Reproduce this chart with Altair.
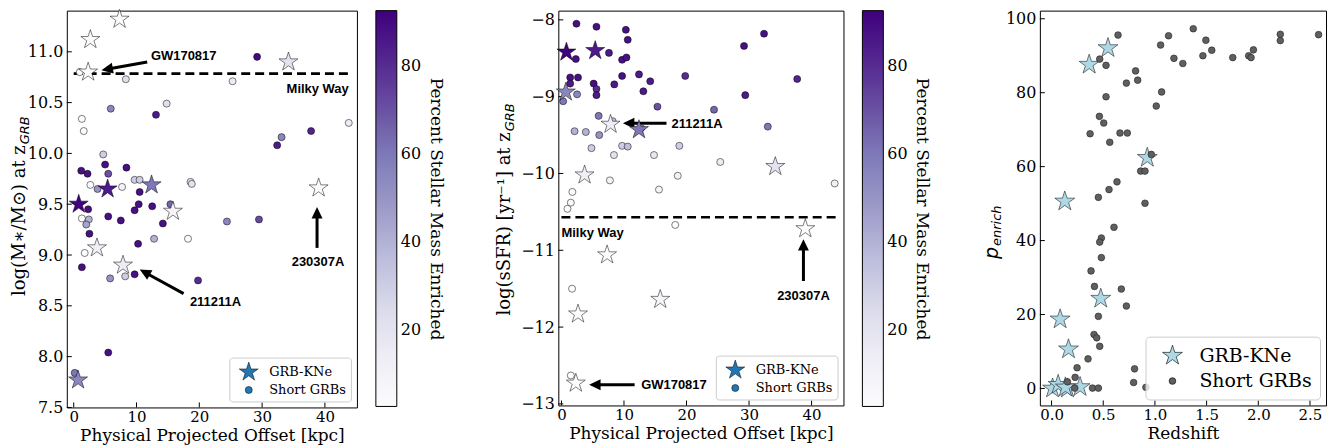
import altair as alt
import pandas as pd

# ---------------- data ----------------
KINDS = ["GRB-KNe", "Short GRBs"]

# GRB-KNe (stars) shared by panels 1 and 2
kn_offset = [7.3, 2.65, 2.3, 34.2, 0.8, 5.4, 12.4, 15.8, 39.0, 3.7, 7.85, 0.7]
kn_logm = [11.32, 11.12, 10.80, 10.90, 9.50, 9.65, 9.69, 9.43, 9.66, 9.07, 8.90, 7.77]
kn_lssfr = [-11.06, -11.83, -12.73, -9.91, -8.42, -8.40, -9.43, -11.64, -10.72, -10.02, -9.36, -8.94]
kn_pct = [3, 3, 3, 20, 92, 85, 60, 8, 3, 12, 15, 55]

# Short GRBs, panel 1 (stellar mass)
m_offset = [0.96, 29.2, 8.3, 25.3, 5.9, 14.8, 13.1, 1.3, 1.6, 43.8, 37.8, 33.1, 32.4, 4.7, 5.0, 1.2, 2.2,
            8.4, 5.5, 2.65, 7.7, 3.8, 9.7, 10.5, 10.5, 18.6, 18.8, 10.35, 9.7, 12.5, 15.4, 2.3, 1.3, 2.4,
            2.0, 5.5, 7.5, 14.2, 24.4, 29.5, 2.5, 1.75, 12.8, 18.2, 10.25, 1.3, 5.8, 8.2, 9.7, 19.8, 5.5, 0.16]
m_logm = [10.80, 10.95, 10.73, 10.71, 10.44, 10.49, 10.38, 10.34, 10.22, 10.30, 10.22, 10.16, 10.08, 9.99,
          9.89, 9.83, 9.80, 9.86, 9.80, 9.69, 9.67, 9.65, 9.74, 9.74, 9.62, 9.72, 9.70, 9.50, 9.44, 9.48,
          9.50, 9.45, 9.36, 9.35, 9.30, 9.38, 9.34, 9.31, 9.33, 9.35, 9.21, 9.02, 9.16, 9.16, 9.11, 8.88,
          8.77, 8.79, 8.81, 8.75, 8.04, 7.84]
m_pct = [3, 90, 22, 15, 55, 22, 85, 3, 3, 15, 82, 55, 85, 30, 88, 88, 88, 88, 70, 3, 10, 50, 30, 30, 88,
         20, 20, 88, 88, 88, 65, 88, 3, 40, 45, 88, 88, 88, 55, 72, 88, 3, 40, 3, 88, 88, 50, 30, 88, 80, 88, 60]

# Short GRBs, panel 2 (sSFR)
s_offset = [2.4, 5.6, 10.3, 10.6, 32.4, 29.2, 2.3, 7.6, 9.7, 10.4, 1.4, 2.65, 1.4, 5.15, 5.6, 5.6, 8.45,
            9.7, 12.4, 14.2, 13.1, 19.8, 29.4, 37.7, 2.5, 0.27, 15.35, 24.4, 5.95, 8.2, 12.75, 33.0, 2.1,
            3.9, 6.05, 4.8, 9.7, 10.6, 18.85, 8.4, 14.8, 25.4, 18.6, 7.75, 15.6, 43.7, 1.75, 1.5, 0.96,
            18.2, 1.7, 1.5]
s_lssfr = [-8.05, -8.09, -8.13, -8.26, -8.18, -8.34, -8.51, -8.43, -8.52, -8.49, -8.75, -8.75, -8.83,
           -8.83, -8.90, -8.98, -8.84, -8.73, -8.71, -8.80, -8.93, -8.73, -8.98, -8.77, -8.97, -9.06,
           -9.13, -9.17, -9.25, -9.32, -9.41, -9.39, -9.45, -9.46, -9.50, -9.67, -9.64, -9.65, -9.64,
           -9.76, -9.76, -9.85, -10.03, -10.09, -10.21, -10.13, -10.24, -10.38, -10.46, -10.67, -11.50, -12.63]
s_pct = [88, 88, 88, 88, 88, 88, 88, 85, 88, 88, 88, 88, 85, 88, 80, 85, 85, 88, 85, 85, 85, 80, 85, 82,
         55, 60, 70, 65, 60, 35, 45, 60, 40, 40, 50, 30, 30, 35, 30, 20, 18, 15, 10, 10, 8, 12, 3, 5, 3,
         3, 3, 3]

# Panel 3 (p_enrich vs redshift)
kn_z = [0.364, 0.546, 0.926, 0.128, 0.476, 0.083, 0.164, 0.0098, 0.064, 0.154, 0.276, 0.134]
kn_p = [87.6, 92.1, 62.4, 50.6, 24.3, 18.7, 10.6, 0.0, 1.0, 0.0, 0.4, 0.3]
sg_z = [0.643, 0.466, 0.527, 0.813, 0.833, 0.724, 0.527, 0.463, 0.505, 0.373, 0.662, 0.733, 0.563, 1.371,
        1.132, 1.055, 1.493, 1.550, 1.464, 1.184, 1.27, 1.753, 1.907, 1.93, 1.953, 2.213, 2.213, 2.583,
        1.065, 1.013, 0.965, 0.862, 0.904, 0.633, 0.556, 0.453, 0.904, 0.604, 0.482, 0.466, 0.482, 0.382,
        0.415, 0.675, 0.724, 0.453, 0.411, 0.437, 0.466, 0.353, 0.247, 0.803, 0.794, 0.228, 0.154, 0.396,
        0.453, 0.225, 0.913]
sg_p = [95.6, 89.1, 87.4, 85.9, 83.4, 82.6, 78.9, 73.6, 71.8, 68.9, 69.1, 69.1, 66.6, 97.3, 95.4, 92.9,
        94.2, 91.5, 90.0, 89.3, 87.9, 89.5, 90.0, 89.5, 91.6, 95.8, 94.1, 95.7, 80.2, 76.4, 63.3, 58.8,
        58.8, 55.9, 53.8, 51.7, 50.1, 43.6, 40.7, 39.6, 35.4, 31.8, 27.6, 26.9, 22.3, 19.5, 14.6, 13.7,
        11.4, 8.0, 5.6, 5.3, 1.6, 3.0, 1.8, 0.1, 0.1, 0.1, 0.3]

# tick values
XT_OFF = [0, 10, 20, 30, 40]
YT_M = [7.5, 8.0, 8.5, 9.0, 9.5, 10.0, 10.5, 11.0]
YT_S = [-13, -12, -11, -10, -9, -8]
XT_Z = [0.0, 0.5, 1.0, 1.5, 2.0, 2.5]
YT_P = [0, 20, 40, 60, 80, 100]
CB_T = [20, 40, 60, 80]

# colour bar (Purples) range and limits
CB_MIN, CB_MAX = 2.6, 92.5
PURPLES = ["#fcfbfd", "#efedf5", "#dadaeb", "#bcbddc", "#9e9ac8", "#807dba", "#6a51a3", "#54278f", "#3f007d"]
CB_DOM = [CB_MIN + (CB_MAX - CB_MIN) * i / (len(PURPLES) - 1) for i in range(len(PURPLES))]

# annotations (text, x, y, align)
p1_text = [("GW170817", 12.3, 10.96, "left"), ("Milky Way", 43.8, 10.63, "right"),
           ("211211A", 18.5, 8.54, "left"), ("230307A", 38.9, 8.93, "center")]
p1_arrows = {"x": [11.7, 17.5, 38.75], "y": [10.90, 8.62, 9.07],
             "x2": [5.45, 11.43, 38.75], "y2": [10.83, 8.826, 9.408], "a": [260, 298.6, 0]}
p2_text = [("211211A", 17.6, -9.35, "left"), ("Milky Way", 0.0, -10.77, "left"),
           ("230307A", 38.7, -11.60, "center"), ("GW170817", 12.75, -12.75, "left")]
p2_arrows = {"x": [16.8, 38.7, 11.7], "y": [-9.345, -11.40, -12.75],
             "x2": [10.88, 38.7, 5.47], "y2": [-9.345, -10.94, -12.75], "a": [270, 0, 270]}
MW_M = 10.785
MW_S = -10.57

# ---------------- style ----------------
STAR = ("M0,-1L0.2245,-0.309L0.951,-0.309L0.363,0.118L0.588,0.809L0,0.382L-0.588,0.809"
        "L-0.363,0.118L-0.951,-0.309L-0.2245,-0.309Z")
HEAD = "M0,-0.6L0.5,0.45L-0.5,0.45Z"
SERIF = "DejaVu Serif"
BOLD = "Liberation Sans"


def mk_x(field, dom, ticks, fmt, title):
    return alt.X(field, type="quantitative", scale=alt.Scale(domain=dom, nice=False, zero=False),
                 axis=alt.Axis(values=ticks, format=fmt, ticks=False, domain=False, grid=False,
                               labelPadding=2, labelFont=SERIF, labelFontSize=15, labelColor="black",
                               labelFlush=False, labelOverlap=False,
                               title=title, titleFont=SERIF, titleFontSize=17,
                               titleFontWeight="normal", titleColor="black", titlePadding=3))


def mk_y(field, dom, ticks, fmt):
    return alt.Y(field, type="quantitative", scale=alt.Scale(domain=dom, nice=False, zero=False),
                 axis=alt.Axis(values=ticks, format=fmt, ticks=False, domain=False, grid=False,
                               labelPadding=4, labelFont=SERIF, labelFontSize=16, labelColor="black",
                               labelFlush=False, labelOverlap=False, title=""))


def tick_layers(X, Y, xticks, yticks, H):
    yt = alt.Chart(pd.DataFrame({"y": yticks})).mark_rule(color="black", strokeWidth=1).encode(
        y=Y("y"), x=alt.value(0), x2=alt.value(5))
    xt = alt.Chart(pd.DataFrame({"x": xticks})).mark_rule(color="black", strokeWidth=1).encode(
        x=X("x"), y=alt.value(H), y2=alt.value(H - 5))
    return [yt, xt]


def title_layers(main, sub, xm, xs, yanchor, font_main, style_main, size_main, font_sub, size_sub):
    t1 = alt.Chart(pd.DataFrame({"t": [main]})).mark_text(
        angle=270, align="right", baseline="alphabetic", font=font_main, fontStyle=style_main,
        fontSize=size_main, color="black").encode(text="t:N", x=alt.value(xm), y=alt.value(yanchor))
    t2 = alt.Chart(pd.DataFrame({"t": [sub]})).mark_text(
        angle=270, align="left", baseline="alphabetic", font=font_sub, fontStyle="italic",
        fontSize=size_sub, color="black").encode(text="t:N", x=alt.value(xs), y=alt.value(yanchor - 1))
    return [t1, t2]


def purple_panel(W, H, xdom, ydom, yticks, yfmt, cx, cy, cpct, ky, mw_y, texts, arrows,
                 ytitle, ty_x, ty_sub_x, ty_y):
    X = lambda f: mk_x(f, xdom, XT_OFF, "d", "Physical Projected Offset [kpc]")
    Y = lambda f: mk_y(f, ydom, yticks, yfmt)
    n = len(cx)
    df = pd.DataFrame({"x": cx + kn_offset, "y": cy + ky, "pct": cpct + kn_pct,
                       "kind": ["Short GRBs"] * n + ["GRB-KNe"] * len(kn_offset)})
    cleg = alt.Legend(title="Percent Stellar Mass Enriched", orient="right", direction="vertical",
                      titleOrient="right", titleAnchor="middle", titleFont=SERIF, titleFontSize=17,
                      titleFontWeight="normal", titleColor="black", titlePadding=6, titleLimit=600,
                      gradientLength=397, gradientThickness=21, gradientStrokeColor="black",
                      gradientStrokeWidth=1, values=CB_T, labelFont=SERIF, labelFontSize=16,
                      labelColor="black", labelOffset=4, offset=19, padding=0)
    sleg = alt.Legend(title="", orient="bottom-right", offset=6, padding=4, fillColor="white",
                      strokeColor="#cccccc", cornerRadius=3, labelFont=SERIF, labelFontSize=13,
                      labelColor="black", labelOffset=10, symbolOffset=5, symbolFillColor="#1f77b4",
                      symbolStrokeColor="black", symbolStrokeWidth=0.5, rowPadding=2)
    pts = alt.Chart(df).mark_point(filled=True, opacity=1, stroke="black", strokeWidth=0.5,
                                   color="#1f77b4").encode(
        x=X("x"), y=Y("y"),
        color=alt.Color("pct:Q", scale=alt.Scale(domain=CB_DOM, range=PURPLES, interpolate="rgb"),
                        legend=cleg),
        shape=alt.Shape("kind:N", scale=alt.Scale(domain=KINDS, range=[STAR, "circle"]), legend=sleg),
        size=alt.Size("kind:N", scale=alt.Scale(domain=KINDS, range=[400, 50]), legend=sleg),
    )
    mw = alt.Chart(pd.DataFrame({"x": [0.0], "x2": [43.9], "y": [mw_y]})).mark_rule(
        color="black", strokeWidth=2.6, strokeDash=[9, 5]).encode(x=X("x"), x2=alt.X2("x2"), y=Y("y"))
    adf = pd.DataFrame(arrows)
    shaft = alt.Chart(adf).mark_rule(color="black", strokeWidth=3).encode(
        x=X("x"), y=Y("y"), x2=alt.X2("x2"), y2=alt.Y2("y2"))
    head = alt.Chart(adf).mark_point(shape=HEAD, filled=True, color="black", size=480, opacity=1,
                                     strokeWidth=0).encode(
        x=X("x2"), y=Y("y2"),
        angle=alt.Angle("a:Q", scale=alt.Scale(domain=[0, 360], range=[0, 360])))
    layers = tick_layers(X, Y, XT_OFF, yticks, H) + [mw, shaft, head, pts]
    for (t, tx, ty, al) in texts:
        layers.append(alt.Chart(pd.DataFrame({"t": [t], "x": [tx], "y": [ty]})).mark_text(
            font=BOLD, fontWeight="bold", fontSize=13, color="black", align=al, baseline="middle"
        ).encode(text="t:N", x=X("x"), y=Y("y")))
    layers += title_layers(ytitle, "GRB", ty_x, ty_sub_x, ty_y, SERIF, "normal", 18, "DejaVu Sans", 13)
    return alt.layer(*layers).properties(width=W, height=H)


p1 = purple_panel(291, 398, [-1.1, 45.1], [7.5, 11.405], YT_M, ".1f", m_offset, m_logm, m_pct, kn_logm,
                  MW_M, p1_text, p1_arrows, "log(M\u2217/M\u2299) at z", -42, -38, 135)
p2 = purple_panel(286, 396, [-0.5, 45.1], [-13.02, -7.88], YT_S, "d", s_offset, s_lssfr, s_pct, kn_lssfr,
                  MW_S, p2_text, p2_arrows, "log(sSFR) [yr\u207b\u00b9] at z", -48, -44, 122)

# panel 3
W3, H3 = 287, 396
X3 = lambda f: mk_x(f, [-0.113, 2.655], XT_Z, ".1f", "Redshift")
Y3 = lambda f: mk_y(f, [-4.6, 102.2], YT_P, "d")
df3 = pd.DataFrame({"x": kn_z + sg_z, "y": kn_p + sg_p,
                    "kind": ["GRB-KNe"] * len(kn_z) + ["Short GRBs"] * len(sg_z)})
leg3 = alt.Legend(title="", orient="bottom-right", offset=6, padding=8,
                  fillColor="rgba(255,255,255,0.8)", strokeColor="#cccccc", cornerRadius=4,
                  labelFont=SERIF, labelFontSize=19, labelColor="black", labelOffset=16,
                  symbolOffset=8, symbolFillColor="#5f5f5f",
                  symbolStrokeColor="black", symbolStrokeWidth=0.6, rowPadding=6)
pts3 = alt.Chart(df3).mark_point(filled=True, opacity=1, stroke="#222222", strokeWidth=0.6).encode(
    x=X3("x"), y=Y3("y"),
    color=alt.Color("kind:N", scale=alt.Scale(domain=KINDS, range=["#add8e6", "#5f5f5f"]), legend=leg3),
    shape=alt.Shape("kind:N", scale=alt.Scale(domain=KINDS, range=[STAR, "circle"]), legend=leg3),
    size=alt.Size("kind:N", scale=alt.Scale(domain=KINDS, range=[440, 45]), legend=leg3),
)
layers3 = tick_layers(X3, Y3, XT_Z, YT_P, H3) + [pts3]
layers3 += title_layers("p", "enrich", -42, -39, 237, "DejaVu Sans", "italic", 19, "DejaVu Sans", 13)
p3 = alt.layer(*layers3).properties(width=W3, height=H3)

chart = alt.hconcat(p1, p2, p3, spacing=50).resolve_scale(
    color="independent", shape="independent", size="independent"
).resolve_legend(
    color="independent", shape="independent", size="independent"
).configure(
    padding={"left": 10, "top": 7, "right": 0, "bottom": 0}, background="white"
).configure_view(stroke="black", strokeWidth=1)

chart.save("out.html", embed_options={"renderer": "svg", "actions": False})
